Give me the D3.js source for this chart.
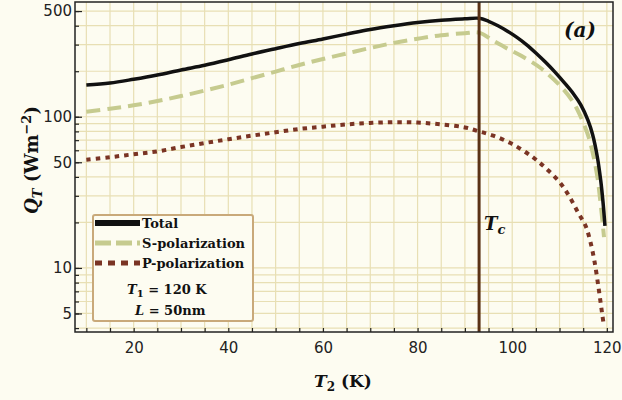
<!DOCTYPE html>
<html>
<head>
<meta charset="utf-8">
<script src="https://cdn.jsdelivr.net/npm/d3@7"></script>
<style>
body { margin: 0; background: #fdfcf1; }
svg { display: block; }
</style>
</head>
<body>
<div id="plot"></div>
<script>

// Data (T2 in K, Q_T in W m^-2)
var totalT = [10, 15, 20, 25, 30, 35, 40, 45, 50, 55, 60, 65, 70, 75, 80, 85, 90, 93,
	      95, 97, 99, 101, 103, 105, 107, 109, 111, 113, 114.5, 116, 117, 118, 118.7, 119.2, 119.6];
var totalQ = [162, 167, 177, 189, 204, 219, 238, 260, 282, 305, 327, 352, 378, 400, 420, 435, 444, 448,
	      428, 400, 368, 335, 300, 264, 230, 198, 168, 141, 120, 95, 76, 54, 38, 27, 19];

var sPolT = [10, 15, 20, 25, 30, 35, 40, 45, 50, 55, 60, 65, 70, 75, 80, 85, 90, 93,
	     96, 99, 102, 106, 110, 112.6, 114.1, 116, 117, 118, 118.6, 119.1, 119.4];
var sPolQ = [108, 113, 119, 127, 137, 149, 163, 180, 199, 220, 241, 262, 285, 308, 328, 346, 357, 360,
	     318, 282, 252, 210, 162, 129, 106, 76, 58, 40, 28, 20, 16];

var pPolT = [10, 15, 20, 25, 30, 35, 40, 45, 50, 55, 60, 65, 70, 75, 80, 85, 90, 93,
	     96, 100, 104, 107, 110, 112, 114, 115.5, 116.5, 117.4, 118.3, 119, 119.4];
var pPolQ = [52, 54, 56.5, 59, 63, 67, 71, 75, 79, 83, 86, 89, 91, 92, 91.5, 89, 85, 80,
	     75, 66, 55, 46, 37, 30, 23, 19, 15, 11, 7.2, 5, 4.1];

var Tc = 93;

var xTicks = [20, 40, 60, 80, 100, 120];
var xMinor = d3.range(10, 121, 5);
var yTicks = [5, 10, 50, 100, 500];
var yMinor = [4, 5, 6, 7, 8, 9, 10, 20, 30, 40, 50, 60, 70, 80, 90, 100, 200, 300, 400, 500];

var width = 622, height = 400;
var dims = {left: 75, right: 613, top: 2, bottom: 332};

var x = d3.scaleLinear().domain([7.6, 121.3]).range([dims.left, dims.right]);
var y = d3.scaleLog().domain([3.77, 574]).range([dims.bottom, dims.top]);

var svg = d3.select("#plot").append("svg")
    .attr("width", width)
    .attr("height", height);

svg.append("rect")
    .attr("width", width).attr("height", height)
    .style("fill", "#fdfcf1");

var serif = "'DejaVu Serif', 'Liberation Serif', serif";
var sans = "'DejaVu Sans', sans-serif";
var gridCol = "#e8dfb4";

// grid
var grid = svg.append("g").attr("class", "grid");
grid.selectAll(".vgrid").data(xMinor).enter().append("line")
    .attr("x1", function(d) { return x(d); }).attr("x2", function(d) { return x(d); })
    .attr("y1", dims.top).attr("y2", dims.bottom)
    .style("stroke", gridCol).style("stroke-width", 1.2);
grid.selectAll(".hgrid").data(yMinor).enter().append("line")
    .attr("y1", function(d) { return y(d); }).attr("y2", function(d) { return y(d); })
    .attr("x1", dims.left).attr("x2", dims.right)
    .style("stroke", gridCol).style("stroke-width", 1.2);

// axes (inward ticks)
svg.append("g")
    .attr("transform", "translate(0," + dims.bottom + ")")
    .call(d3.axisTop(x).tickValues(xMinor).tickSize(4).tickFormat(""))
    .call(function(g) { g.select(".domain").remove(); })
    .selectAll("line").style("stroke", "#222").style("stroke-width", 1.2);

svg.append("g")
    .attr("transform", "translate(0," + dims.bottom + ")")
    .call(d3.axisBottom(x).tickValues(xTicks).tickSize(0).tickPadding(10).tickFormat(d3.format("d")))
    .call(function(g) { g.select(".domain").remove(); })
    .selectAll("text")
    .style("font-family", sans).style("font-size", "15px").style("fill", "#222");

svg.append("g")
    .attr("transform", "translate(" + dims.left + ",0)")
    .call(d3.axisRight(y).tickValues(yMinor).tickSize(4).tickFormat(""))
    .call(function(g) { g.select(".domain").remove(); })
    .selectAll("line").style("stroke", "#222").style("stroke-width", 1.2);

svg.append("g")
    .attr("transform", "translate(" + dims.left + ",0)")
    .call(d3.axisRight(y).tickValues(yTicks).tickSize(7).tickFormat(""))
    .call(function(g) { g.select(".domain").remove(); })
    .selectAll("line").style("stroke", "#222").style("stroke-width", 1.2);

svg.append("g")
    .attr("transform", "translate(" + dims.left + ",0)")
    .call(d3.axisLeft(y).tickValues(yTicks).tickSize(0).tickPadding(3).tickFormat(d3.format("d")))
    .call(function(g) { g.select(".domain").remove(); })
    .selectAll("text")
    .style("font-family", sans).style("font-size", "15px").style("fill", "#222");

// clip
svg.append("clipPath").attr("id", "clip")
    .append("rect")
    .attr("x", dims.left).attr("y", dims.top)
    .attr("width", dims.right - dims.left).attr("height", dims.bottom - dims.top);

var body = svg.append("g").attr("clip-path", "url(#clip)");

function series(ts, qs) {
    return ts.map(function(t, i) { return {t: t, q: qs[i]}; });
}
var line = d3.line()
    .x(function(d) { return x(d.t); })
    .y(function(d) { return y(d.q); })
    .curve(d3.curveCatmullRom.alpha(0.5));

body.append("path").datum(series(pPolT, pPolQ))
    .attr("d", line)
    .style("fill", "none").style("stroke", "#7a3424")
    .style("stroke-width", 4).style("stroke-dasharray", "4.5,5");

body.append("path").datum(series(sPolT, sPolQ))
    .attr("d", line)
    .style("fill", "none").style("stroke", "#c6cb8f")
    .style("stroke-width", 4).style("stroke-dasharray", "14,7");

body.append("path").datum(series(totalT, totalQ))
    .attr("d", line)
    .style("fill", "none").style("stroke", "#111")
    .style("stroke-width", 3.5);

// Tc line
svg.append("line")
    .attr("x1", x(Tc)).attr("x2", x(Tc))
    .attr("y1", dims.top).attr("y2", dims.bottom)
    .style("stroke", "#5a3216").style("stroke-width", 3);

var tcLab = svg.append("text")
    .attr("x", x(Tc) + 5).attr("y", 230)
    .style("font-family", serif).style("font-weight", "bold").style("font-style", "italic")
    .style("font-size", "18px").style("fill", "#111");
tcLab.append("tspan").text("T");
tcLab.append("tspan").attr("dy", 4).style("font-size", "13px").text("c");

svg.append("text")
    .attr("x", 580).attr("y", 37)
    .attr("text-anchor", "middle")
    .style("font-family", serif).style("font-weight", "bold").style("font-style", "italic")
    .style("font-size", "20px").style("fill", "#111")
    .text("(a)");

// frame
svg.append("rect")
    .attr("x", dims.left).attr("y", dims.top)
    .attr("width", dims.right - dims.left).attr("height", dims.bottom - dims.top)
    .style("fill", "none").style("stroke", "#222").style("stroke-width", 1.5);

// legend
var leg = svg.append("g").attr("class", "legend");
leg.append("rect")
    .attr("x", 93).attr("y", 215).attr("width", 160).attr("height", 106)
    .attr("rx", 2)
    .style("fill", "#fdfcf1").style("stroke", "#c9a97a").style("stroke-width", 2);

var legItems = [
    {name: "Total", color: "#111", dash: null, w: 6, y: 223},
    {name: "S-polarization", color: "#c6cb8f", dash: "16,5", w: 5, y: 243},
    {name: "P-polarization", color: "#7a3424", dash: "7,6", w: 5, y: 263}
];
legItems.forEach(function(d) {
    leg.append("line")
	.attr("x1", 95).attr("x2", 140).attr("y1", d.y).attr("y2", d.y)
	.style("stroke", d.color).style("stroke-width", d.w)
	.style("stroke-dasharray", d.dash);
    leg.append("text")
	.attr("x", 142).attr("y", d.y + 5)
	.style("font-family", serif).style("font-weight", "bold")
	.style("font-size", "13px").style("fill", "#111")
	.text(d.name);
});

var t1 = leg.append("text").attr("x", 127).attr("y", 294)
    .style("font-family", serif).style("font-weight", "bold")
    .style("font-size", "13px").style("fill", "#111");
t1.append("tspan").style("font-style", "italic").text("T");
t1.append("tspan").attr("dy", 3).style("font-size", "10px").text("1");
t1.append("tspan").attr("dy", -3).text(" = 120 K");

var lL = leg.append("text").attr("x", 135).attr("y", 315)
    .style("font-family", serif).style("font-weight", "bold")
    .style("font-size", "13px").style("fill", "#111");
lL.append("tspan").style("font-style", "italic").text("L");
lL.append("tspan").text(" = 50nm");

// axis titles
var xt = svg.append("text")
    .attr("x", 343).attr("y", 387)
    .attr("text-anchor", "middle")
    .style("font-family", serif).style("font-weight", "bold")
    .style("font-size", "17px").style("fill", "#111");
xt.append("tspan").style("font-style", "italic").text("T");
xt.append("tspan").attr("dy", 4).style("font-size", "12px").text("2");
xt.append("tspan").attr("dy", -4).text(" (K)");

var yt = svg.append("text")
    .attr("transform", "translate(38,160) rotate(-90)")
    .attr("text-anchor", "middle")
    .style("font-family", serif).style("font-weight", "bold")
    .style("font-size", "18px").style("fill", "#111");
yt.append("tspan").style("font-style", "italic").text("Q");
yt.append("tspan").attr("dy", 4).style("font-style", "italic").style("font-size", "13px").text("T");
yt.append("tspan").attr("dy", -4).text("   (Wm");
yt.append("tspan").attr("dy", -7).style("font-size", "13px").text("−2");
yt.append("tspan").attr("dy", 7).text(")");

</script>
</body>
</html>
